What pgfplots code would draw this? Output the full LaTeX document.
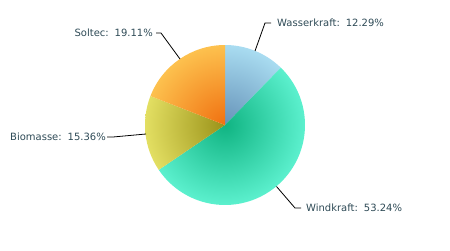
\documentclass[border=0pt]{standalone}
\usepackage{pgfplots}
\pgfplotsset{compat=1.18}
\usepackage{fontspec}
\setmainfont{DejaVu Sans}
\definecolor{wIn}{HTML}{6592B8}
\definecolor{wOut}{HTML}{B4E8FA}
\definecolor{kIn}{HTML}{10B482}
\definecolor{kOut}{HTML}{68FADA}
\definecolor{bIn}{HTML}{9A9218}
\definecolor{bOut}{HTML}{EEEB6E}
\definecolor{sIn}{HTML}{F07010}
\definecolor{sOut}{HTML}{FFCE58}
\definecolor{lbl}{HTML}{2E4A56}
\pgfdeclareradialshading{wshade}{\pgfpointorigin}{color(0bp)=(wIn); color(29bp)=(wOut); color(75bp)=(wOut)}
\pgfdeclareradialshading{kshade}{\pgfpointorigin}{color(0bp)=(kIn); color(29bp)=(kOut); color(75bp)=(kOut)}
\pgfdeclareradialshading{bshade}{\pgfpointorigin}{color(0bp)=(bIn); color(29bp)=(bOut); color(75bp)=(bOut)}
\pgfdeclareradialshading{sshade}{\pgfpointorigin}{color(0bp)=(sIn); color(29bp)=(sOut); color(75bp)=(sOut)}
% shares in percent
\def\pW{12.29}
\def\pK{53.24}
\def\pB{15.36}
\def\pS{19.11}
\newcommand{\slice}[3]{%
  \begin{scope}
    \clip (axis cs:225,125) -- ++(#1:80bp) arc[start angle=#1,end angle=#2,radius=80bp] -- cycle;
    \shade[shading=#3] (axis cs:225,125) circle[radius=80bp];
  \end{scope}}
\begin{document}
\begin{tikzpicture}
\pgfmathsetmacro{\aA}{90}
\pgfmathsetmacro{\aB}{\aA-3.6*\pW}
\pgfmathsetmacro{\aC}{\aB-3.6*\pK}
\pgfmathsetmacro{\aD}{\aC-3.6*\pB}
\pgfmathsetmacro{\aE}{\aD-3.6*\pS}
\begin{axis}[name=ax, x=1bp, y=1bp, xmin=0, xmax=450, ymin=0, ymax=250,
  hide axis, clip=false, scale only axis]
\slice{\aA}{\aB}{wshade}
\slice{\aB}{\aC}{kshade}
\slice{\aC}{\aD}{bshade}
\slice{\aD}{\aE}{sshade}
\begin{scope}[every node/.style={text=lbl, font=\fontsize{10bp}{12bp}\selectfont, inner sep=0pt}]
\draw[black, line width=0.8bp] (axis cs:255,199) -- (axis cs:265,227) -- (axis cs:271,227);
\node[anchor=west] at (axis cs:277,227.5) {Wasserkraft:\, 12.29\%};
\draw[black, line width=0.8bp] (axis cs:276.5,63.5) -- (axis cs:295,42) -- (axis cs:301,42);
\node[anchor=west] at (axis cs:306,42.5) {Windkraft:\, 53.24\%};
\draw[black, line width=0.8bp] (axis cs:146,116) -- (axis cs:113,113) -- (axis cs:107,113);
\node[anchor=east] at (axis cs:106,113.5) {Biomasse:\, 15.36\%};
\draw[black, line width=0.8bp] (axis cs:180,191) -- (axis cs:161,217) -- (axis cs:156,217);
\node[anchor=east] at (axis cs:153,217.5) {Soltec:\, 19.11\%};
\end{scope}
\end{axis}
\pgfresetboundingbox
\path (ax.south west) rectangle (ax.north east);
\end{tikzpicture}
\end{document}
